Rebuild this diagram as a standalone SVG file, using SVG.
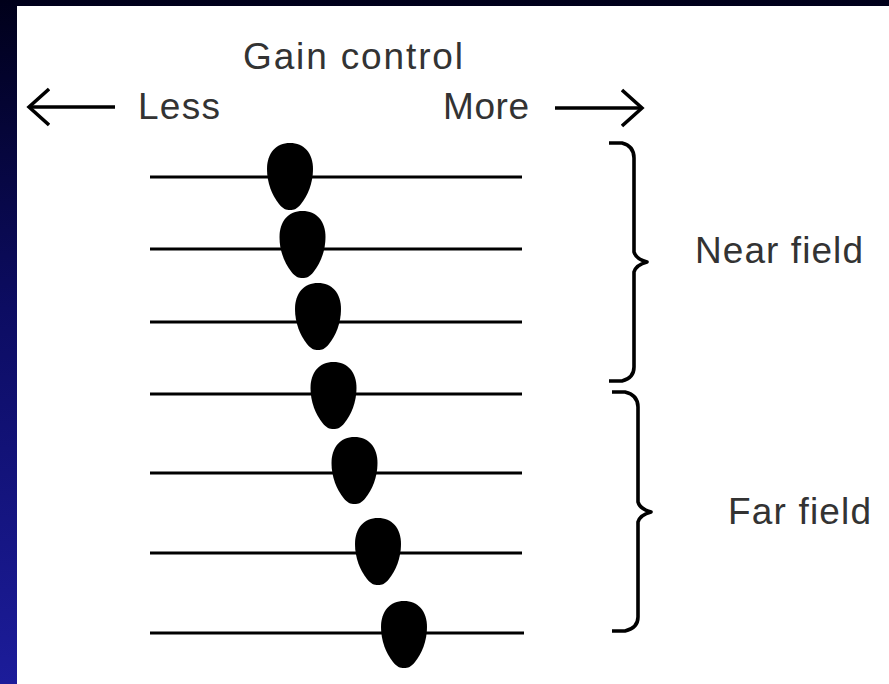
<svg xmlns="http://www.w3.org/2000/svg" width="889" height="684" viewBox="0 0 889 684">
  <defs>
    <linearGradient id="bg" x1="0" y1="0" x2="0" y2="1">
      <stop offset="0" stop-color="#00001a"/>
      <stop offset="0.45" stop-color="#0c0c62"/>
      <stop offset="1" stop-color="#1c1c9a"/>
    </linearGradient>
    <path id="blob" d="M0,0 C14,0 23,10 23,26 C23,40 18,52 11,61 C7,66 4,67 0,67 C-4,67 -7,66 -11,61 C-18,52 -23,40 -23,26 C-23,10 -14,0 0,0 Z"/>
    <marker id="ah" viewBox="0 0 24 40" refX="21" refY="20" markerWidth="24" markerHeight="40" markerUnits="userSpaceOnUse" orient="auto">
      <path d="M1,2 L21,20 L1,38" fill="none" stroke="#000" stroke-width="3.5"/>
    </marker>
  </defs>
  <style>
    .lbl { font-family: "Liberation Sans", Arial, sans-serif; font-size: 37px; fill: #333; }
    .track { stroke: #000; stroke-width: 3.2; fill: none; }
    .knob { fill: #000; }
    .brace { stroke: #000; stroke-width: 3.6; fill: none; stroke-linejoin: round; }
    .arrow { stroke: #000; stroke-width: 3.6; fill: none; }
  </style>
  <rect x="0" y="0" width="889" height="684" fill="url(#bg)"/>
  <rect x="17" y="6" width="872" height="678" fill="#fff"/>

  <g id="title">
    <text class="lbl" x="243" y="69" textLength="220" lengthAdjust="spacing">Gain control</text>
  </g>
  <g id="less">
    <text class="lbl" x="138" y="119" textLength="82" lengthAdjust="spacing">Less</text>
  </g>
  <g id="more">
    <text class="lbl" x="443" y="119" textLength="86" lengthAdjust="spacing">More</text>
  </g>

  <g id="connectors">
    <line class="arrow" x1="115" y1="107" x2="29" y2="107" marker-end="url(#ah)"/>
    <line class="arrow" x1="555" y1="108" x2="642" y2="108" marker-end="url(#ah)"/>
  </g>

  <g id="slider1"><line class="track" x1="150" y1="177" x2="522" y2="177"/><use href="#blob" class="knob" x="290" y="143"/></g>
  <g id="slider2"><line class="track" x1="150" y1="249" x2="522" y2="249"/><use href="#blob" class="knob" x="302.5" y="211"/></g>
  <g id="slider3"><line class="track" x1="150" y1="322" x2="522" y2="322"/><use href="#blob" class="knob" x="318" y="283"/></g>
  <g id="slider4"><line class="track" x1="150" y1="394" x2="522" y2="394"/><use href="#blob" class="knob" x="333.5" y="362"/></g>
  <g id="slider5"><line class="track" x1="150" y1="473" x2="522" y2="473"/><use href="#blob" class="knob" x="354.5" y="437"/></g>
  <g id="slider6"><line class="track" x1="150" y1="553" x2="522" y2="553"/><use href="#blob" class="knob" x="378" y="518"/></g>
  <g id="slider7"><line class="track" x1="150" y1="633" x2="524" y2="633"/><use href="#blob" class="knob" x="404" y="601"/></g>

  <g id="near-field">
    <path class="brace" d="M609,143 L622,143 Q634,146 634,158 L634,252 Q636,259 647,262 Q636,265 634,272 L634,367 Q634,378 622,381 L609,381"/>
    <text class="lbl" x="695" y="263" textLength="168" lengthAdjust="spacing">Near field</text>
  </g>
  <g id="far-field">
    <path class="brace" d="M612,392 L625,392 Q638,395 638,407 L638,502 Q640,509 651,512 Q640,515 638,522 L638,617 Q638,628 625,631 L612,631"/>
    <text class="lbl" x="728" y="524" textLength="143" lengthAdjust="spacing">Far field</text>
  </g>
</svg>
